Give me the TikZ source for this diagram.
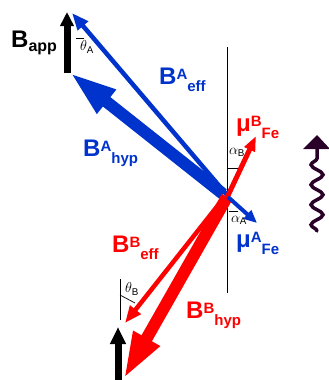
\documentclass[tikz,border=0pt]{standalone}
\usepackage{fontspec}
\setmainfont{Liberation Sans}
\usetikzlibrary{arrows.meta,decorations.pathmorphing}

\definecolor{fieldblue}{RGB}{0,51,204}
\definecolor{fieldred}{RGB}{255,0,0}
\definecolor{photon}{RGB}{40,0,40}

% label with superscript and subscript placed one after the other
\newcommand{\fieldlbl}[3]{#1\raisebox{0.2em}{\fontsize{15}{15}\selectfont #2}\raisebox{-0.3em}{\fontsize{15}{15}\selectfont #3}}

\begin{document}
\begin{tikzpicture}[
    x=1pt, y=-1pt,
    lbl/.style={anchor=base west, inner sep=0pt, font=\fontsize{24}{24}\selectfont\bfseries},
    ang/.style={inner sep=0pt, font=\fontsize{14}{14}\selectfont},
    thickvec/.style={line width=12pt, -{Triangle[length=48pt, width=27pt]}},
    thinvec/.style={line width=4.5pt, -{Triangle[length=17pt, width=13pt]}},
    momvec/.style={line width=5pt, -{Triangle[length=15pt, width=11pt]}},
    appvec/.style={line width=7pt, -{Triangle[length=14pt, width=13pt]}}
]
\useasboundingbox (0,0) rectangle (329,380);

% reference axis
\coordinate (axtop) at (227,47);
\coordinate (axbot) at (227,293);
\draw[line width=0.8pt] (axtop) -- (axbot);

% site A (blue)
\coordinate (effAstart) at (227,195);
\coordinate (effAtip) at (72,13);
\coordinate (hypAstart) at (223,194);
\coordinate (hypAtip) at (69,72);
\coordinate (muAstart) at (228,197);
\coordinate (muAtip) at (257,223);
\draw[fieldblue, thickvec] (hypAstart) -- (hypAtip);
\draw[fieldblue, thinvec] (effAstart) -- (effAtip);

% site B (red)
\coordinate (muBstart) at (224,204);
\coordinate (muBtip) at (256,136);
\coordinate (hypBstart) at (227,197);
\coordinate (hypBtip) at (123,380);
\coordinate (effBstart) at (223,199);
\coordinate (effBtip) at (125,323);
\draw[fieldred, thickvec] (hypBstart) -- (hypBtip);
\draw[fieldred, thinvec] (effBstart) -- (effBtip);
\draw[fieldred, momvec] (muBstart) -- (muBtip);
\draw[fieldblue, line width=4pt, -{Triangle[length=13pt, width=11pt]}] (muAstart) -- (muAtip);

% applied field
\coordinate (appAbot) at (67,73);
\coordinate (appAtip) at (67,12);
\coordinate (appBbot) at (118,381);
\coordinate (appBtip) at (118,327);
\draw[black, appvec] (appAbot) -- (appAtip);
\draw[black, line width=7pt, -{Triangle[length=17pt, width=15pt]}] (appBbot) -- (appBtip);

% angle marks
\draw[line width=0.7pt] (76,38) -- (84,38);
\node[ang] (thA) at (87,47) {$\theta_{\mathrm{A}}$};
\draw[line width=0.7pt] (228,168) -- (238,168);
\node[ang] (alB) at (237,152) {$\alpha_{\mathrm{B}}$};
\draw[line width=0.7pt] (229,211) -- (238,211);
\node[ang] (alA) at (239,220) {$\alpha_{\mathrm{A}}$};
\draw[line width=0.7pt] (120,279) -- (120,320);
\draw[line width=0.7pt] (120,295) -- (135,303);
\node[ang] (thB) at (132,289) {$\theta_{\mathrm{B}}$};

% labels
\node[lbl] (lblapp) at (11,47) {B\raisebox{-0.17em}{\fontsize{16}{16}\selectfont app}};
\node[lbl, fieldblue] (lblAeff) at (159,84) {\fieldlbl{B}{A}{eff}};
\node[lbl, fieldblue] (lblAhyp) at (83,156) {\fieldlbl{B}{A}{hyp}};
\node[lbl, fieldred] (lblBeff) at (112,252) {\fieldlbl{B}{B}{eff}};
\node[lbl, fieldred] (lblBhyp) at (186,318) {\fieldlbl{B}{B}{hyp}};
\node[lbl, fieldred] (lblmuB) at (236,131) {\fieldlbl{μ}{B}{Fe}};
\node[lbl, fieldblue] (lblmuA) at (236,247) {\fieldlbl{μ}{A}{Fe}};

% incoming photon
\coordinate (wbot) at (317,231);
\coordinate (wtop) at (317,149);
\draw[photon, line width=3.5pt, line cap=round, decorate,
      decoration={snake, segment length=20pt, amplitude=6pt}] (wbot) -- (wtop);
\fill[photon] (303,149) -- (330,149) -- (317,135) -- cycle;
\end{tikzpicture}
\end{document}
